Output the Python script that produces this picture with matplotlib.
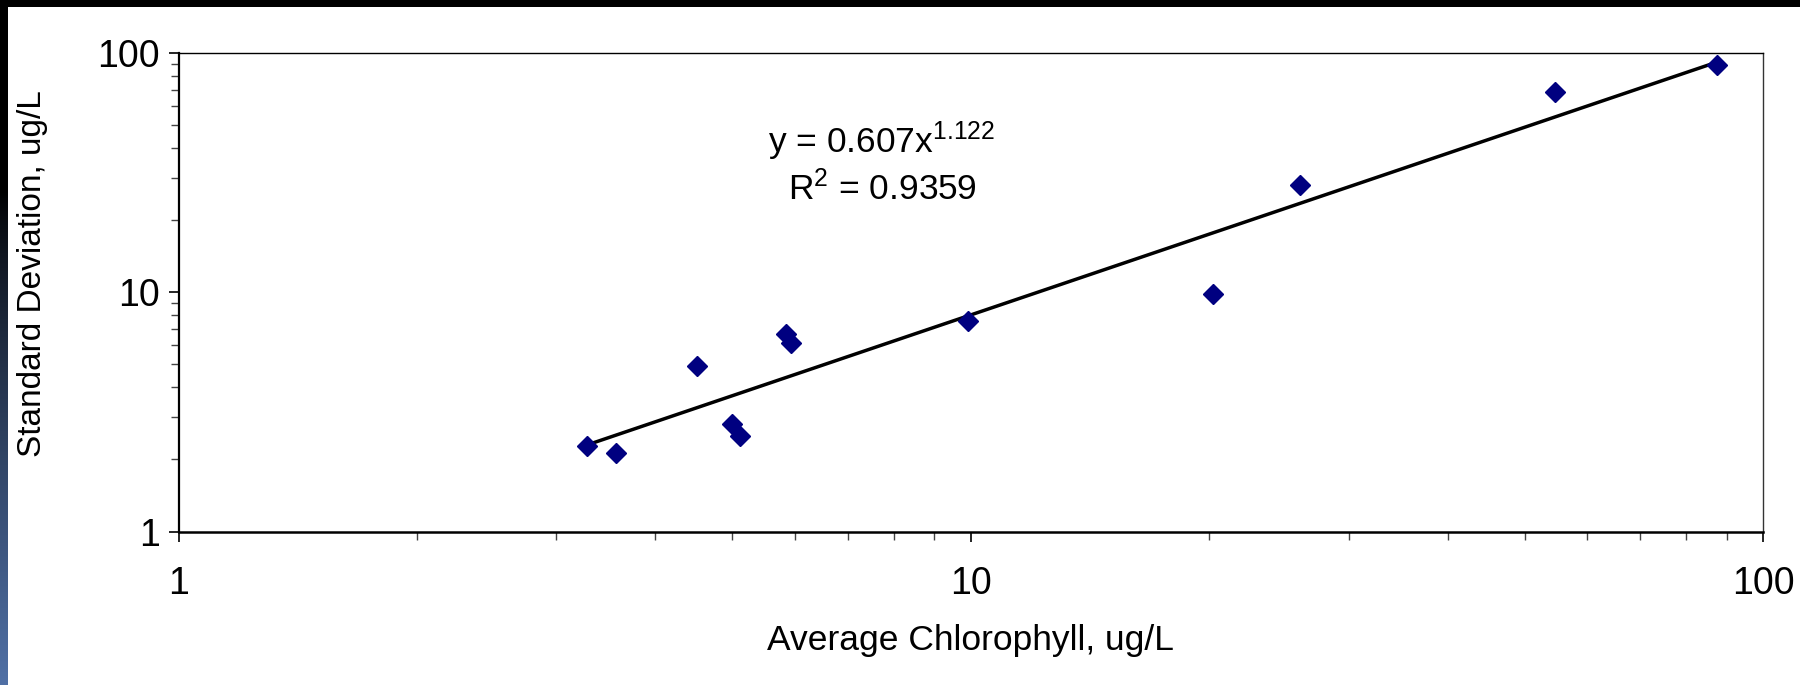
import numpy as np
import matplotlib
matplotlib.use('Agg')
import matplotlib.pyplot as plt
from matplotlib.ticker import LogLocator, NullFormatter, FixedFormatter, FixedLocator

plt.rcParams['font.family'] = ['Liberation Sans', 'DejaVu Sans']
plt.rcParams['mathtext.fontset'] = 'custom'
plt.rcParams['mathtext.rm'] = 'Liberation Sans'

# station averages and standard deviations (ug/L)
avg_chl = [3.28, 3.57, 4.51, 5.00, 5.11, 5.85, 5.93, 9.93, 20.2, 26.0, 54.6, 87.6]
std_chl = [2.28, 2.12, 4.93, 2.81, 2.51, 6.67, 6.16, 7.61, 9.81, 28.1, 68.6, 88.9]

# power trend y = a * x^b
coef_a = 0.607
coef_b = 1.122
r_sq = 0.9359

major_ticks = [1, 10, 100]
major_labels = ['1', '10', '100']

fig = plt.figure(figsize=(18, 6.85), dpi=100)
fig.patch.set_facecolor('white')

ax = fig.add_axes([178.5 / 1800, 1 - 531.5 / 685, (1763 - 178.5) / 1800, (531.5 - 53) / 685])

x_fit = np.linspace(min(avg_chl), max(avg_chl), 200)
y_fit = coef_a * x_fit ** coef_b
ax.plot(x_fit, y_fit, color='black', lw=2.5, zorder=2)
ax.plot(avg_chl, std_chl, ls='none', marker='D', ms=9.8, color='#000080',
        mec='#000080', zorder=3)

ax.set_xscale('log')
ax.set_yscale('log')
ax.set_xlim(1, 100)
ax.set_ylim(1, 100)

for a in (ax.xaxis, ax.yaxis):
    a.set_major_locator(FixedLocator(major_ticks))
    a.set_major_formatter(FixedFormatter(major_labels))
    a.set_minor_locator(LogLocator(base=10, subs=np.arange(2, 10)))
    a.set_minor_formatter(NullFormatter())

ax.tick_params(which='major', direction='out', length=7.5, width=1.2,
               labelsize=27, color='black')
ax.tick_params(which='minor', direction='out', length=5.5, width=1.0, color='#444444')
ax.tick_params(axis='y', which='major', pad=6)
ax.tick_params(axis='x', which='major', pad=17)

ax.spines['left'].set_linewidth(1.6)
ax.spines['bottom'].set_linewidth(1.8)
ax.spines['top'].set_linewidth(1.0)
ax.spines['right'].set_linewidth(1.0)
ax.spines['right'].set_color('#333333')

ax.set_xlabel('Average Chlorophyll, ug/L', fontsize=25.5, va='center')
ax.set_ylabel('Standard Deviation, ug/L', fontsize=24, va='center')
ax.xaxis.set_label_coords(0.5, -0.227)
ax.yaxis.set_label_coords(-0.092, 0.538)

ax.text(0.444, 0.815, 'y = %.3fx$\\mathregular{^{%.3f}}$' % (coef_a, coef_b),
        transform=ax.transAxes, ha='center', va='center', fontsize=25.5)
ax.text(0.444, 0.717, 'R$\\mathregular{^{2}}$ = %.4f' % r_sq,
        transform=ax.transAxes, ha='center', va='center', fontsize=25.5)

# dark frame: black band on top, black-to-blue strip on the left
top = fig.add_axes([0, 1 - 7 / 685, 1, 7 / 685])
top.set_facecolor('black')
top.set_xticks([])
top.set_yticks([])
for s in top.spines.values():
    s.set_visible(False)

side = fig.add_axes([0, 0, 8 / 1800, 1])
grad = np.linspace(0, 1, 256)
c0 = np.array([0, 0, 0])
c1 = np.array([80, 112, 165]) / 255
ramp = np.clip((grad - 0.28) / 0.72, 0, 1) ** 0.8
cols = c0[None, :] * (1 - ramp[:, None]) + c1[None, :] * ramp[:, None]
side.imshow(cols[:, None, :], aspect='auto', extent=[0, 1, 1, 0])
side.set_xticks([])
side.set_yticks([])
for s in side.spines.values():
    s.set_visible(False)

fig.savefig('out.png', dpi=100)
